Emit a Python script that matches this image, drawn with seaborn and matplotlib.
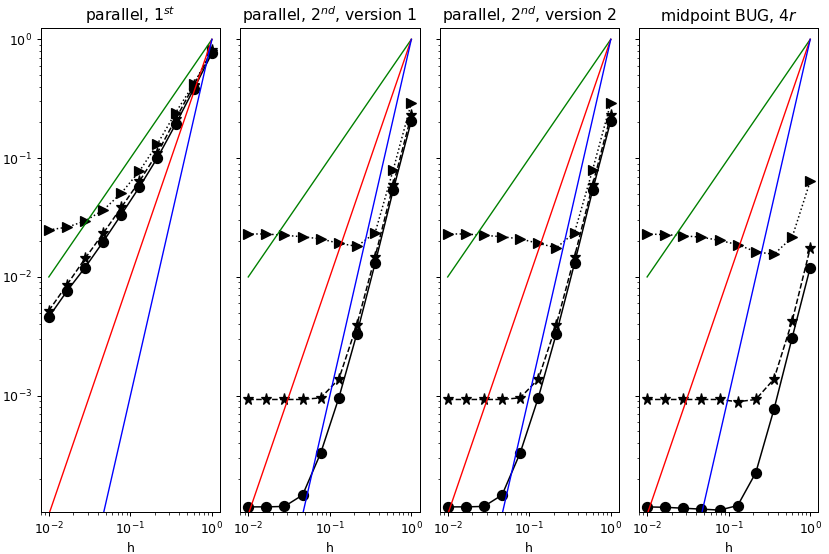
import numpy as np
import pandas as pd
import seaborn as sns
import matplotlib
matplotlib.use("Agg")
import matplotlib.pyplot as plt

# step sizes
h = [0.01, 0.0167, 0.0278, 0.0464, 0.0774, 0.129, 0.215, 0.359, 0.599, 1.0]

titles = ["parallel, $1^{st}$",
          "parallel, $2^{nd}$, version 1",
          "parallel, $2^{nd}$, version 2",
          "midpoint BUG, $4r$"]

# error curves (circle / star / triangle)
circ_p1 = [4.6e-3, 7.6e-3, 0.0120, 0.0198, 0.0335, 0.0571, 0.101, 0.193, 0.382, 0.765]
star_p1 = [5.2e-3, 8.6e-3, 0.0143, 0.0233, 0.0385, 0.0638, 0.111, 0.213, 0.41, 0.81]
tri_p1 = [0.0249, 0.0262, 0.0296, 0.0365, 0.0508, 0.0776, 0.132, 0.242, 0.42, 0.81]

circ_p2 = [1.16e-4, 1.16e-4, 1.17e-4, 1.46e-4, 3.30e-4, 9.6e-4, 3.34e-3, 0.0130, 0.0538, 0.207]
star_p2 = [9.3e-4, 9.3e-4, 9.3e-4, 9.3e-4, 9.6e-4, 1.38e-3, 3.97e-3, 0.0148, 0.0597, 0.230]
tri_p2 = [0.0230, 0.0230, 0.0224, 0.0218, 0.0209, 0.0192, 0.0181, 0.0235, 0.0798, 0.292]

circ_p3 = [1.16e-4, 1.16e-4, 1.17e-4, 1.46e-4, 3.30e-4, 9.6e-4, 3.34e-3, 0.0130, 0.0538, 0.207]
star_p3 = [9.3e-4, 9.3e-4, 9.3e-4, 9.3e-4, 9.6e-4, 1.38e-3, 3.97e-3, 0.0148, 0.0597, 0.230]
tri_p3 = [0.0230, 0.0230, 0.0224, 0.0218, 0.0209, 0.0192, 0.0176, 0.0236, 0.0798, 0.292]

circ_p4 = [1.16e-4, 1.15e-4, 1.13e-4, 1.11e-4, 1.09e-4, 1.19e-4, 2.25e-4, 7.67e-4, 3.06e-3, 0.0120]
star_p4 = [9.3e-4, 9.3e-4, 9.3e-4, 9.3e-4, 9.3e-4, 8.9e-4, 9.3e-4, 1.38e-3, 4.23e-3, 0.0175]
tri_p4 = [0.0230, 0.0227, 0.0222, 0.0216, 0.0203, 0.0187, 0.0163, 0.0155, 0.0215, 0.064]

circ = [circ_p1, circ_p2, circ_p3, circ_p4]
stars = [star_p1, star_p2, star_p3, star_p4]
tris = [tri_p1, tri_p2, tri_p3, tri_p4]

# reference order lines (endpoints): h, h^2, h^3
ref_h = [0.01, 1.0]
ord1 = [1e-2, 1.0]
ord2 = [1e-4, 1.0]
ord3 = [1e-6, 1.0]

fig, axes = plt.subplots(1, 4, figsize=(830 / 90, 554 / 90), dpi=90, sharey=True)
fig.subplots_adjust(left=0.049, right=0.986, top=0.949, bottom=0.0758, wspace=0.1115)

for i, ax in enumerate(axes):
    sns.lineplot(x=h, y=circ[i], ax=ax, color="k", linestyle="-", marker="o", linewidth=1.2,
                 markersize=8, markeredgecolor="k", markeredgewidth=1, sort=False)
    sns.lineplot(x=h, y=stars[i], ax=ax, color="k", linestyle="--", marker="*", linewidth=1.2,
                 markersize=9, markeredgecolor="k", markeredgewidth=1, sort=False)
    sns.lineplot(x=h, y=tris[i], ax=ax, color="k", linestyle=":", marker=">", linewidth=1.2,
                 markersize=8, markeredgecolor="k", markeredgewidth=1, sort=False)
    sns.lineplot(x=ref_h, y=ord1, ax=ax, color="green", linewidth=1.1)
    sns.lineplot(x=ref_h, y=ord2, ax=ax, color="red", linewidth=1.1)
    sns.lineplot(x=ref_h, y=ord3, ax=ax, color="blue", linewidth=1.1)
    ax.set_xscale("log")
    ax.set_yscale("log")
    ax.set_title(titles[i], fontsize=12.5)
    ax.set_xlabel("h")

axes[0].set_ylim(1.05e-4, 1.24)

plt.savefig("out.png", dpi=90)
plt.close()
